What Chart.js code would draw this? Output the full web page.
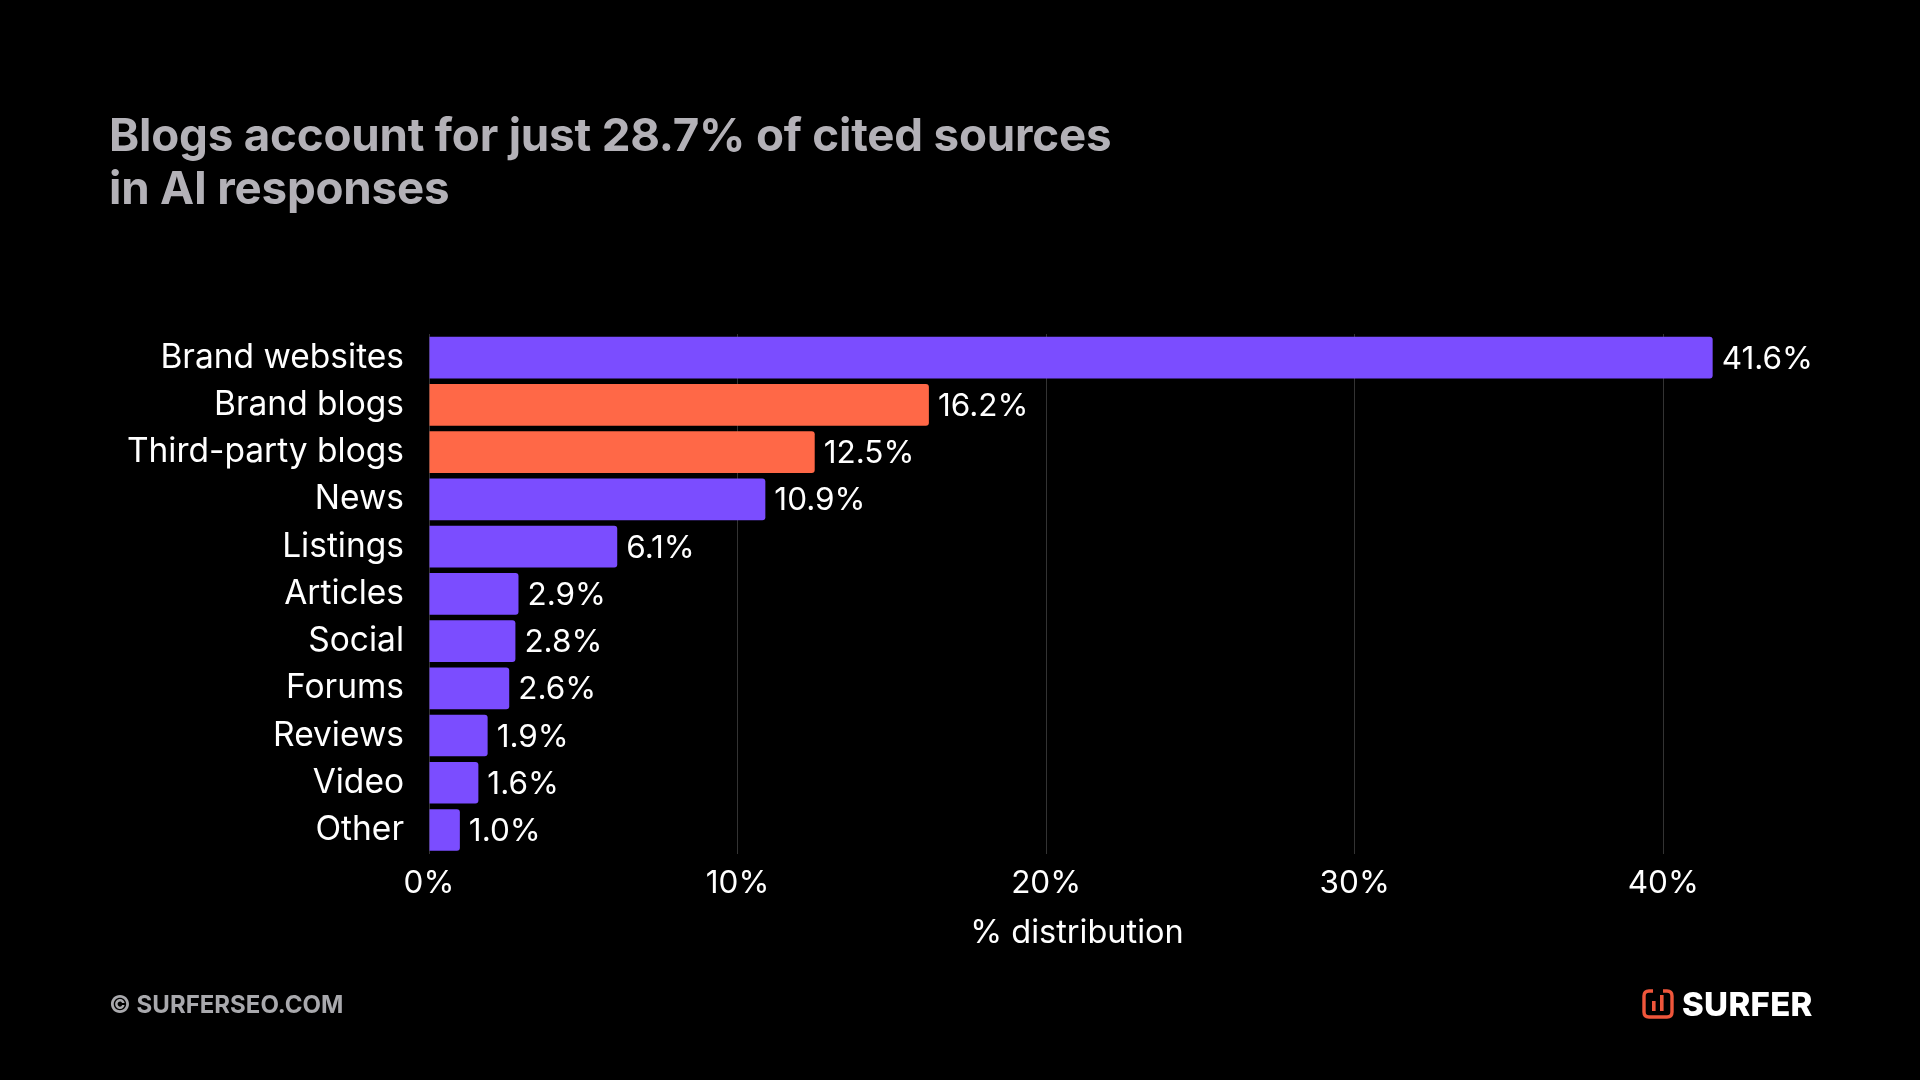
<!DOCTYPE html>
<html>
<head>
<meta charset="utf-8">
<script src="https://cdn.jsdelivr.net/npm/chart.js@4.4.0/dist/chart.umd.min.js"></script>
<style>
  html, body { margin: 0; padding: 0; background: #000; }
  #wrap { position: relative; width: 1920px; height: 1080px; background: #000; overflow: hidden; }
  #chartBox { position: absolute; left: 0; top: 0; width: 1920px; height: 1080px; }
  #title { position: absolute; left: 109px; top: 109px; margin: 0; font-family: Inter, sans-serif; font-weight: 700;
           font-size: 45.7px; line-height: 52.5px; color: #b3b1b7; letter-spacing: -0.2px; }
  #foot { position: absolute; left: 109px; top: 990px; font-family: Inter, sans-serif; font-weight: 700;
          font-size: 24px; line-height: 30px; color: #a9a9ad; }
  #logo { position: absolute; left: 1642px; top: 987px; height: 34px; display: flex; align-items: center; }
  #logo span { font-family: Inter, sans-serif; font-weight: 800; font-size: 33px; color: #ffffff; margin-left: 8px; letter-spacing: 0.3px; }
</style>
</head>
<body>
<div id="wrap">
  <div id="chartBox"><canvas id="c"></canvas></div>
  <h1 id="title">Blogs account for just 28.7% of cited sources<br>in AI responses</h1>
  <div id="foot">© SURFERSEO.COM</div>
  <div id="logo">
    <svg width="32" height="30" viewBox="0 0 32 30">
      <path d="M11 2 H7 Q2 2 2 7 V23 Q2 28 7 28 H25 Q30 28 30 23 V7 Q30 2 25 2 H21" fill="none" stroke="#f0563b" stroke-width="3.4"/>
      <rect x="10" y="12" width="3.6" height="10" fill="#f0563b"/>
      <rect x="18" y="6" width="3.6" height="16" fill="#f0563b"/>
    </svg>
    <span>SURFER</span>
  </div>
</div>
<script>
const categories = ['Brand websites', 'Brand blogs', 'Third-party blogs', 'News', 'Listings', 'Articles', 'Social', 'Forums', 'Reviews', 'Video', 'Other'];
const shares = [41.6, 16.2, 12.5, 10.9, 6.1, 2.9, 2.8, 2.6, 1.9, 1.6, 1.0];
const isBlog = [false, true, true, false, false, false, false, false, false, false, false];
const xTickValues = [0, 10, 20, 30, 40];
const xAxisTitle = '% distribution';

const PURPLE = '#7b4dff';
const ORANGE = '#ff6847';
const FONT = 'Inter, sans-serif';

const valueLabels = {
  id: 'valueLabels',
  afterDatasetsDraw(chart) {
    const ctx = chart.ctx;
    const meta = chart.getDatasetMeta(0);
    ctx.save();
    ctx.font = '400 31.5px ' + FONT;
    ctx.fillStyle = '#ffffff';
    ctx.textAlign = 'left';
    ctx.textBaseline = 'middle';
    meta.data.forEach((bar, i) => {
      ctx.fillText(shares[i].toFixed(1) + '%', bar.x + 9, bar.y + 1.5);
    });
    ctx.restore();
  }
};

new Chart(document.getElementById('c'), {
  type: 'bar',
  data: {
    labels: categories,
    datasets: [{
      data: shares,
      backgroundColor: isBlog.map(b => b ? ORANGE : PURPLE),
      borderRadius: 3,
      borderSkipped: 'start',
      barPercentage: 0.88,
      categoryPercentage: 1.0
    }]
  },
  options: {
    indexAxis: 'y',
    responsive: true,
    maintainAspectRatio: false,
    animation: false,
    devicePixelRatio: 1,
    layout: { padding: { top: 334, right: 195, bottom: 127.5, left: 0 } },
    plugins: { legend: { display: false }, tooltip: { enabled: false } },
    scales: {
      x: {
        type: 'linear',
        min: 0,
        max: 42,
        afterBuildTicks(axis) { axis.ticks = xTickValues.map(v => ({ value: v })); },
        grid: { color: '#333333', lineWidth: 1, drawTicks: false },
        border: { display: false },
        ticks: {
          color: '#ffffff',
          padding: 11,
          font: { family: FONT, size: 31.5, weight: '400' },
          callback: v => v + '%'
        },
        title: {
          display: true,
          text: xAxisTitle,
          color: '#ffffff',
          padding: { top: 0, bottom: 0 },
          font: { family: FONT, size: 32.5, weight: '400' }
        }
      },
      y: {
        afterFit(scale) { scale.width = 429; },
        grid: { display: false, drawTicks: false },
        border: { display: false },
        ticks: {
          color: '#ffffff',
          padding: 25,
          font: { family: FONT, size: 33.5, weight: '400' }
        }
      }
    }
  },
  plugins: [valueLabels]
});
</script>
</body>
</html>
